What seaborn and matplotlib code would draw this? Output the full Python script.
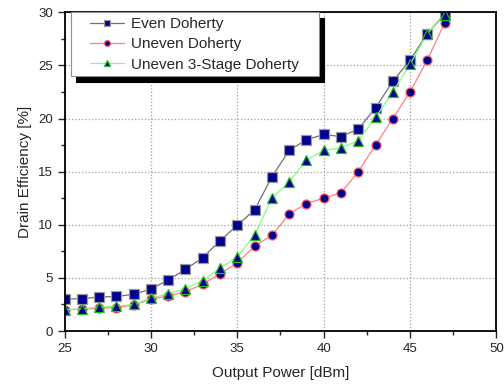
import pandas as pd
import matplotlib
matplotlib.use("Agg")
import matplotlib.pyplot as plt
import matplotlib.legend as mlegend
from matplotlib.patches import Shadow
from matplotlib.offsetbox import DrawingArea
from matplotlib.ticker import MultipleLocator
import seaborn as sns

# Output power points [dBm]
power = list(range(25, 48))

# Drain efficiency [%]
even_doherty = [3.0, 3.05, 3.2, 3.25, 3.45, 3.95, 4.8, 5.8, 6.9, 8.5, 9.95, 11.4, 14.5,
                17.0, 18.0, 18.5, 18.3, 19.0, 21.0, 23.5, 25.5, 28.0, 29.8]
uneven_doherty = [2.0, 2.05, 2.15, 2.2, 2.45, 3.0, 3.3, 3.7, 4.4, 5.4, 6.4, 8.0, 9.0,
                  11.0, 12.0, 12.5, 13.0, 15.0, 17.5, 20.0, 22.5, 25.5, 29.0]
uneven_3stage = [2.0, 2.1, 2.25, 2.35, 2.5, 3.1, 3.5, 4.0, 4.75, 5.9, 7.0, 9.0, 12.5,
                 14.0, 16.1, 17.0, 17.25, 17.9, 20.1, 22.5, 25.1, 28.0, 29.7]

series = ["Even Doherty", "Uneven Doherty", "Uneven 3-Stage Doherty"]

data = pd.DataFrame({
    "power": power * 3,
    "eff": even_doherty + uneven_doherty + uneven_3stage,
    "design": [series[0]] * len(power) + [series[1]] * len(power) + [series[2]] * len(power),
})


# legend shadow a bit further out than the default 2pt offset
def wide_shadow(patch, ox, oy, **kw):
    return Shadow(patch, 3.8, -4.2, **kw)


mlegend.Shadow = wide_shadow

sns.set_style("ticks")
plt.rcParams['font.family'] = ['Liberation Sans', 'DejaVu Sans']

fig, ax = plt.subplots(figsize=(5.04, 3.84), dpi=100)
fig.subplots_adjust(left=0.128, right=0.985, bottom=0.138, top=0.968)

styles = {
    "Even Doherty": dict(color="#707070", marker="s", mec="#9a9a9a"),
    "Uneven Doherty": dict(color="#ff8080", marker="o", mec="#ff6060"),
    "Uneven 3-Stage Doherty": dict(color="#80ff80", marker="^", mec="#20c020"),
}

for name in series:
    st = styles[name]
    sns.lineplot(data=data[data["design"] == name], x="power", y="eff", ax=ax,
                 color=st["color"], marker=st["marker"], markersize=6.5,
                 markerfacecolor="#000090", markeredgecolor=st["mec"],
                 markeredgewidth=0.9, linewidth=0.9, label=name)

ax.set_xlim(25, 50)
ax.set_ylim(0, 30)
ax.xaxis.set_major_locator(MultipleLocator(5))
ax.xaxis.set_minor_locator(MultipleLocator(2.5))
ax.yaxis.set_major_locator(MultipleLocator(5))
ax.yaxis.set_minor_locator(MultipleLocator(2.5))
ax.tick_params(which="major", direction="out", length=5, width=1, labelsize=9.5)
ax.tick_params(which="minor", direction="out", length=3, width=1)
ax.grid(True, which="major", linestyle=":", color="#a0a0a0", linewidth=0.9)
for sp in ax.spines.values():
    sp.set_visible(True)
    sp.set_linewidth(1.3)
    sp.set_color("black")

ax.set_xlabel("Output Power [dBm]", fontsize=11, labelpad=8)
ax.set_ylabel("Drain Efficiency [%]", fontsize=11)

leg = ax.legend(loc="upper left", bbox_to_anchor=(0.015, 1.0), borderaxespad=0,
                fontsize=11, frameon=True, fancybox=False, edgecolor="#909090",
                shadow={"color": "black", "alpha": 1}, framealpha=1,
                handlelength=2.2, handletextpad=0.45, borderpad=0.3,
                labelspacing=0.42, columnspacing=0, markerscale=0.65)
leg.get_frame().set_linewidth(0.8)

# extra side padding inside the legend box
hb = leg._legend_handle_box
left_pad = DrawingArea(10.5, 0)
right_pad = DrawingArea(11.5, 0)
for da in (left_pad, right_pad):
    da.set_figure(fig)
hb._children.insert(0, left_pad)
hb._children.append(right_pad)

plt.savefig("out.png", dpi=100)
